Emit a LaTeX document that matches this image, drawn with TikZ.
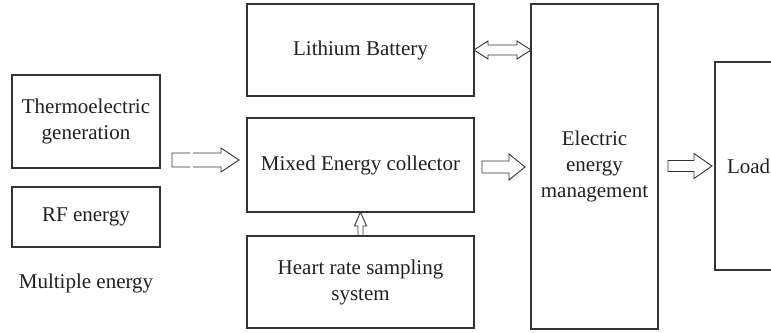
\documentclass[tikz,border=0pt]{standalone}
\usepackage{fontspec}
\setmainfont{Liberation Serif}
\usetikzlibrary{calc}
\definecolor{ln}{HTML}{333333}
\definecolor{tx}{HTML}{231F20}
\tikzset{
  box/.style={draw=ln, line width=1.3pt, outer sep=0pt, inner sep=0pt, align=center, text=tx},
  lbl/.style={text=tx, align=center, inner sep=0pt},
  harrow/.style n args={3}{draw=ln, line width=0.9pt, line join=miter, to path={let \p1=(\tikztostart),\p2=(\tikztotarget) in
    (\x1,\y1+#1) -- (\x2-#3,\y1+#1) -- (\x2-#3,\y1+#2) -- (\x2,\y1) -- (\x2-#3,\y1-#2) -- (\x2-#3,\y1-#1) -- (\x1,\y1-#1) -- cycle}},
  harrowsplit/.style n args={3}{draw=ln, line width=0.9pt, line join=miter, to path={let \p1=(\tikztostart),\p2=(\tikztotarget) in
    (\x1+18pt,\y1+#1) -- (\x1,\y1+#1) -- (\x1,\y1-#1) -- (\x1+18pt,\y1-#1)
    (\x1+21pt,\y1+#1) -- (\x2-#3,\y1+#1) -- (\x2-#3,\y1+#2) -- (\x2,\y1) -- (\x2-#3,\y1-#2) -- (\x2-#3,\y1-#1) -- (\x1+21pt,\y1-#1)}},
  harrowboth/.style n args={3}{draw=ln, line width=0.9pt, line join=miter, to path={let \p1=(\tikztostart),\p2=(\tikztotarget) in
    (\x1,\y1) -- (\x1+#3,\y1+#2) -- (\x1+#3,\y1+#1) -- (\x2-#3,\y1+#1) -- (\x2-#3,\y1+#2) -- (\x2,\y1) -- (\x2-#3,\y1-#2) -- (\x2-#3,\y1-#1) -- (\x1+#3,\y1-#1) -- (\x1+#3,\y1-#2) -- cycle}},
  harrowup/.style n args={3}{draw=ln, line width=0.9pt, line join=miter, to path={let \p1=(\tikztostart),\p2=(\tikztotarget) in
    (\x1+#1,\y1) -- (\x1+#1,\y2-#3) -- (\x1+#2,\y2-#3) -- (\x2,\y2) -- (\x1-#2,\y2-#3) -- (\x1-#1,\y2-#3) -- (\x1-#1,\y1) -- cycle}},
}
\begin{document}
\begin{tikzpicture}[x=1pt, y=-1pt, font=\fontsize{21}{26}\selectfont]
\useasboundingbox (0,0) rectangle (771,332);
\begin{scope}
\clip (0,0) rectangle (771,332);
\node[box, minimum width=148, minimum height=93] (thermo) at (86,121.5) {Thermoelectric\\generation};
\node[box, minimum width=148, minimum height=60] (rf) at (86,217) {RF energy};
\node[lbl] (multi) at (86,283) {Multiple energy};
\node[box, minimum width=227, minimum height=92] (lith) at (360.5,50) {Lithium Battery};
\node[box, minimum width=227, minimum height=94] (mixed) at (360.5,165) {Mixed Energy collector};
\node[box, minimum width=227, minimum height=92] (heart) at (360.5,282) {Heart rate sampling\\system};
\node[box, minimum width=127, minimum height=325] (eem) at (594.5,166.5) {Electric\\energy\\management};
\node[box, anchor=west, minimum height=208, text width=56pt, inner xsep=12pt, align=left] (load) at (715,166) {Load};

\draw[harrowsplit={7pt}{12pt}{18pt}] ($(thermo.south east)+(12,-8)$) to ($(mixed.west)+(-8,-5)$);
\draw[harrowboth={5pt}{9pt}{14pt}] (lith.east) to (lith.east -| eem.west);
\draw[harrowup={2.5pt}{6pt}{14pt}] (heart.north) to (mixed.south);
\draw[harrow={6pt}{13pt}{16pt}] ($(mixed.east)+(8,2)$) to ($(mixed.east -| eem.west)+(-6,2)$);
\draw[harrow={5.5pt}{12.5pt}{18pt}] ($(eem.east |- load.west)+(10,0)$) to ($(load.west)+(-3,0)$);
\end{scope}
\end{tikzpicture}
\end{document}
